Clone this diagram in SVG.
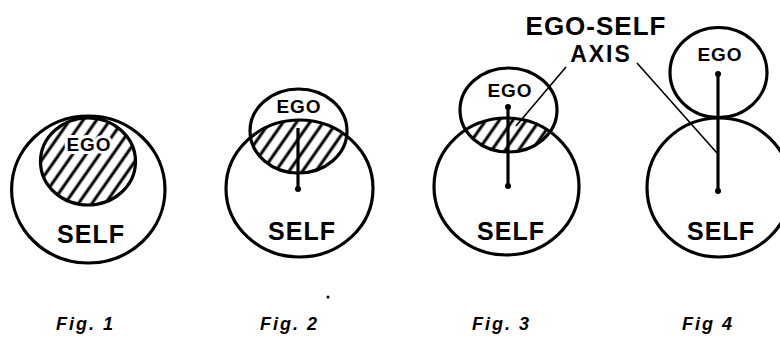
<svg xmlns="http://www.w3.org/2000/svg" width="780" height="340" viewBox="0 0 780 340">
<style>
  .ring { fill: none; stroke: #000; stroke-width: 3.2; }
  .lbl { font-family: "Liberation Sans", Arial, sans-serif; font-weight: bold; fill: #000; text-anchor: middle; }
  .self { font-size: 25px; letter-spacing: 1px; }
  .ego { font-size: 19px; letter-spacing: 1px; }
  .halo { paint-order: stroke; stroke: #fff; stroke-width: 6px; stroke-linejoin: round; }
  .fig { font-family: "Liberation Sans", Arial, sans-serif; font-weight: bold; font-style: italic; font-size: 18px; letter-spacing: 2px; fill: #000; }
  .axis { stroke: #000; stroke-width: 3.2; fill: none; }
  .lead { stroke: #000; stroke-width: 1.6; fill: none; }
  .dot { fill: #000; }
</style>
<defs>
  <pattern id="hatch" patternUnits="userSpaceOnUse" width="11" height="11" patternTransform="rotate(35)">
    <line x1="5" y1="-1" x2="5" y2="12" stroke="#000" stroke-width="3"/>
  </pattern>
  <clipPath id="c1"><ellipse cx="88" cy="161.5" rx="47.5" ry="43.5"/></clipPath>
  <clipPath id="c2"><ellipse cx="298.5" cy="131" rx="48.5" ry="42"/></clipPath>
  <clipPath id="c3"><ellipse cx="508.5" cy="110" rx="48.5" ry="42"/></clipPath>
</defs>

<g id="fig1">
  <g id="fig1-self">
    <ellipse class="ring" cx="88.3" cy="189.5" rx="76.7" ry="73.5"/>
    <text class="lbl self" x="91" y="243">SELF</text>
  </g>
  <g id="fig1-ego">
    <ellipse cx="88" cy="161.5" rx="47.5" ry="43.5" fill="url(#hatch)" clip-path="url(#c1)"/>
    <ellipse class="ring" cx="88" cy="161.5" rx="47.5" ry="43.5" stroke-width="3.8"/>
    <text class="lbl ego halo" x="89" y="151" font-size="20">EGO</text>
  </g>
</g>

<g id="fig2">
  <g id="fig2-self">
    <ellipse cx="299.5" cy="188.5" rx="73.5" ry="68.5" fill="url(#hatch)" clip-path="url(#c2)"/>
    <ellipse class="ring" cx="299.5" cy="188.5" rx="73.5" ry="68.5"/>
    <text class="lbl self" x="302" y="240">SELF</text>
  </g>
  <g id="fig2-ego">
    <ellipse class="ring" cx="298.5" cy="131" rx="48.5" ry="42"/>
    <text class="lbl ego" x="299" y="113">EGO</text>
  </g>
</g>

<g id="fig3">
  <g id="fig3-self">
    <ellipse cx="506.5" cy="186.5" rx="72.5" ry="68.5" fill="url(#hatch)" clip-path="url(#c3)"/>
    <ellipse class="ring" cx="506.5" cy="186.5" rx="72.5" ry="68.5"/>
    <text class="lbl self" x="511" y="240">SELF</text>
  </g>
  <g id="fig3-ego">
    <ellipse class="ring" cx="508.5" cy="110" rx="48.5" ry="42"/>
    <text class="lbl ego" x="510" y="97">EGO</text>
  </g>
</g>

<g id="fig4">
  <g id="fig4-self">
    <ellipse class="ring" cx="719" cy="187.5" rx="72" ry="69.5"/>
    <text class="lbl self" x="721" y="240">SELF</text>
  </g>
  <g id="fig4-ego">
    <ellipse class="ring" cx="718.5" cy="72.5" rx="48.5" ry="45"/>
    <text class="lbl ego" x="720" y="61">EGO</text>
  </g>
</g>

<g id="axis-label">
  <text class="lbl" x="596" y="35" font-size="26" letter-spacing="1">EGO-SELF</text>
  <text class="lbl" x="601" y="62" font-size="23" letter-spacing="2">AXIS</text>
</g>

<g id="connectors">
  <line class="axis" x1="298" y1="189" x2="298" y2="128"/>
  <circle class="dot" cx="298" cy="189" r="3"/>
  <line class="axis" x1="508" y1="107" x2="508" y2="186"/>
  <circle class="dot" cx="508" cy="107" r="3"/>
  <circle class="dot" cx="508" cy="186" r="3"/>
  <line class="axis" x1="718" y1="74" x2="718" y2="191" stroke-width="3.6"/>
  <circle class="dot" cx="718" cy="74" r="3"/>
  <circle class="dot" cx="718" cy="191" r="3"/>
  <line class="lead" x1="566" y1="67" x2="516" y2="126" stroke-width="2"/>
  <line class="lead" x1="637" y1="63" x2="717" y2="153"/>
</g>

<g id="captions">
  <text class="fig" x="56" y="330">Fig. 1</text>
  <text class="fig" x="260" y="330">Fig. 2</text>
  <text class="fig" x="472" y="330">Fig. 3</text>
  <text class="fig" x="682" y="330" letter-spacing="3">Fig  4</text>
  <circle class="dot" cx="328" cy="297" r="1.5"/>
</g>
</svg>
